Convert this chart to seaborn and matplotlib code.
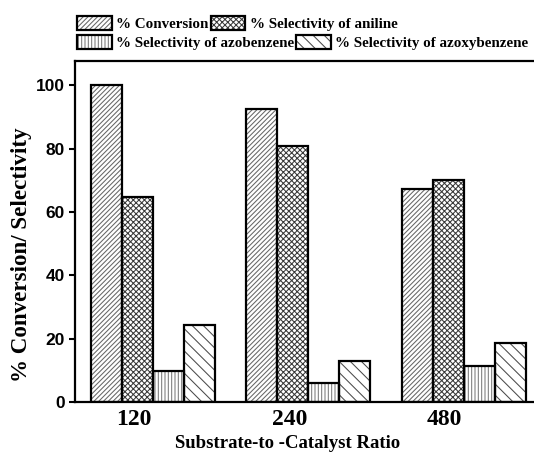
import matplotlib
matplotlib.use("Agg")
import matplotlib.pyplot as plt
import matplotlib.transforms as mtransforms
from matplotlib.patches import Patch, Rectangle
from matplotlib.legend_handler import HandlerTuple
import seaborn as sns
import pandas as pd

ratios = ["120", "240", "480"]
series_names = ["% Conversion", "% Selectivity of aniline",
                "% Selectivity of azobenzene", "% Selectivity of azoxybenzene"]
conversion = [100.0, 92.4, 67.2]
sel_aniline = [64.7, 80.7, 70.0]
sel_azobenzene = [9.8, 6.0, 11.4]
sel_azoxybenzene = [24.4, 12.8, 18.6]
yticks = [0, 20, 40, 60, 80, 100]

hatches = ["///////", "xxxxxx", "|||||", "\\\\\\"]
hatch_colors = ["#666666", "#3a3a3a", "#7a7a7a", "#4a4a4a"]

sns.set_theme(style="white")
plt.rcParams["hatch.linewidth"] = 0.75
plt.rcParams["text.color"] = "black"
plt.rcParams["axes.labelcolor"] = "black"
plt.rcParams["xtick.color"] = "black"
plt.rcParams["ytick.color"] = "black"

rows = []
for name, vals in zip(series_names, [conversion, sel_aniline, sel_azobenzene, sel_azoxybenzene]):
    for r, v in zip(ratios, vals):
        rows.append({"Ratio": r, "Series": name, "Value": v})
df = pd.DataFrame(rows)

fig = plt.figure(figsize=(5.34, 4.55), dpi=100)
ax = fig.add_axes([75 / 534, 1 - 402 / 455, 466.5 / 534, 341.5 / 455])

sns.barplot(data=df, x="Ratio", y="Value", hue="Series", order=ratios,
            hue_order=series_names, palette=["white"] * 4, saturation=1,
            width=0.8, errorbar=None, legend=False, ax=ax)

for i, cont in enumerate(ax.containers):
    for p in cont.patches:
        p.set_hatch(hatches[i])
        p.set_edgecolor(hatch_colors[i])
        p.set_linewidth(0)
        ax.add_patch(Rectangle(p.get_xy(), p.get_width(), p.get_height(),
                               fill=False, edgecolor="black", linewidth=1.6, zorder=3))

ax.set_xlim(-0.5, 2.5)
ax.set_ylim(0, 107.8)
ax.set_yticks(yticks)
ax.set_xticks(range(len(ratios)))
ax.tick_params(axis="y", direction="out", length=4.5, width=1.5, color="black",
               left=True, pad=3, labelcolor="black")
ax.tick_params(axis="x", length=0, pad=5, labelcolor="black")
ax.set_yticklabels([str(t) for t in yticks], fontfamily="Liberation Sans",
                   fontweight="bold", fontsize=12.5, color="black")
ax.set_xticklabels(ratios, fontfamily="Liberation Serif", fontweight="bold",
                   fontsize=17, color="black")
off = mtransforms.ScaledTranslation(-19 / 100, 0, fig.dpi_scale_trans)
for lbl in ax.get_xticklabels():
    lbl.set_transform(lbl.get_transform() + off)

for s in ax.spines.values():
    s.set_linewidth(1.6)
    s.set_color("black")

ax.set_xlabel("Substrate-to -Catalyst Ratio", fontfamily="Liberation Serif",
              fontweight="bold", fontsize=13.5, color="black")
ax.xaxis.set_label_coords((288 - 75) / 466.5, -(444 - 402) / 341.5)
ax.xaxis.label.set_verticalalignment("center")
ax.set_ylabel("% Conversion/ Selectivity", fontfamily="Liberation Serif",
              fontweight="bold", fontsize=16.6, color="black")
ax.yaxis.set_label_coords(-(75 - 22) / 466.5, (402 - 255) / 341.5)
ax.yaxis.label.set_verticalalignment("center")


def make_handle(i):
    h1 = Patch(facecolor="white", edgecolor=hatch_colors[i], hatch=hatches[i], linewidth=0)
    h2 = Patch(facecolor="none", edgecolor="black", linewidth=1.6)
    return (h1, h2)


legprops = dict(family="Liberation Serif", weight="bold", size=10.8)
common = dict(loc="upper left", frameon=False, ncol=2, borderpad=0, borderaxespad=0,
              handlelength=2.3, handleheight=1.1, handletextpad=0.3, columnspacing=0.15,
              prop=legprops, labelcolor="black",
              handler_map={tuple: HandlerTuple(ndivide=1, pad=0)})
leg1 = fig.legend([make_handle(0), make_handle(1)], series_names[:2],
                  bbox_to_anchor=(77 / 534, 1 - 16 / 455), **common)
leg2 = fig.legend([make_handle(2), make_handle(3)], series_names[2:],
                  bbox_to_anchor=(77 / 534, 1 - 35 / 455), **common)

fig.savefig("out.png", dpi=100)
